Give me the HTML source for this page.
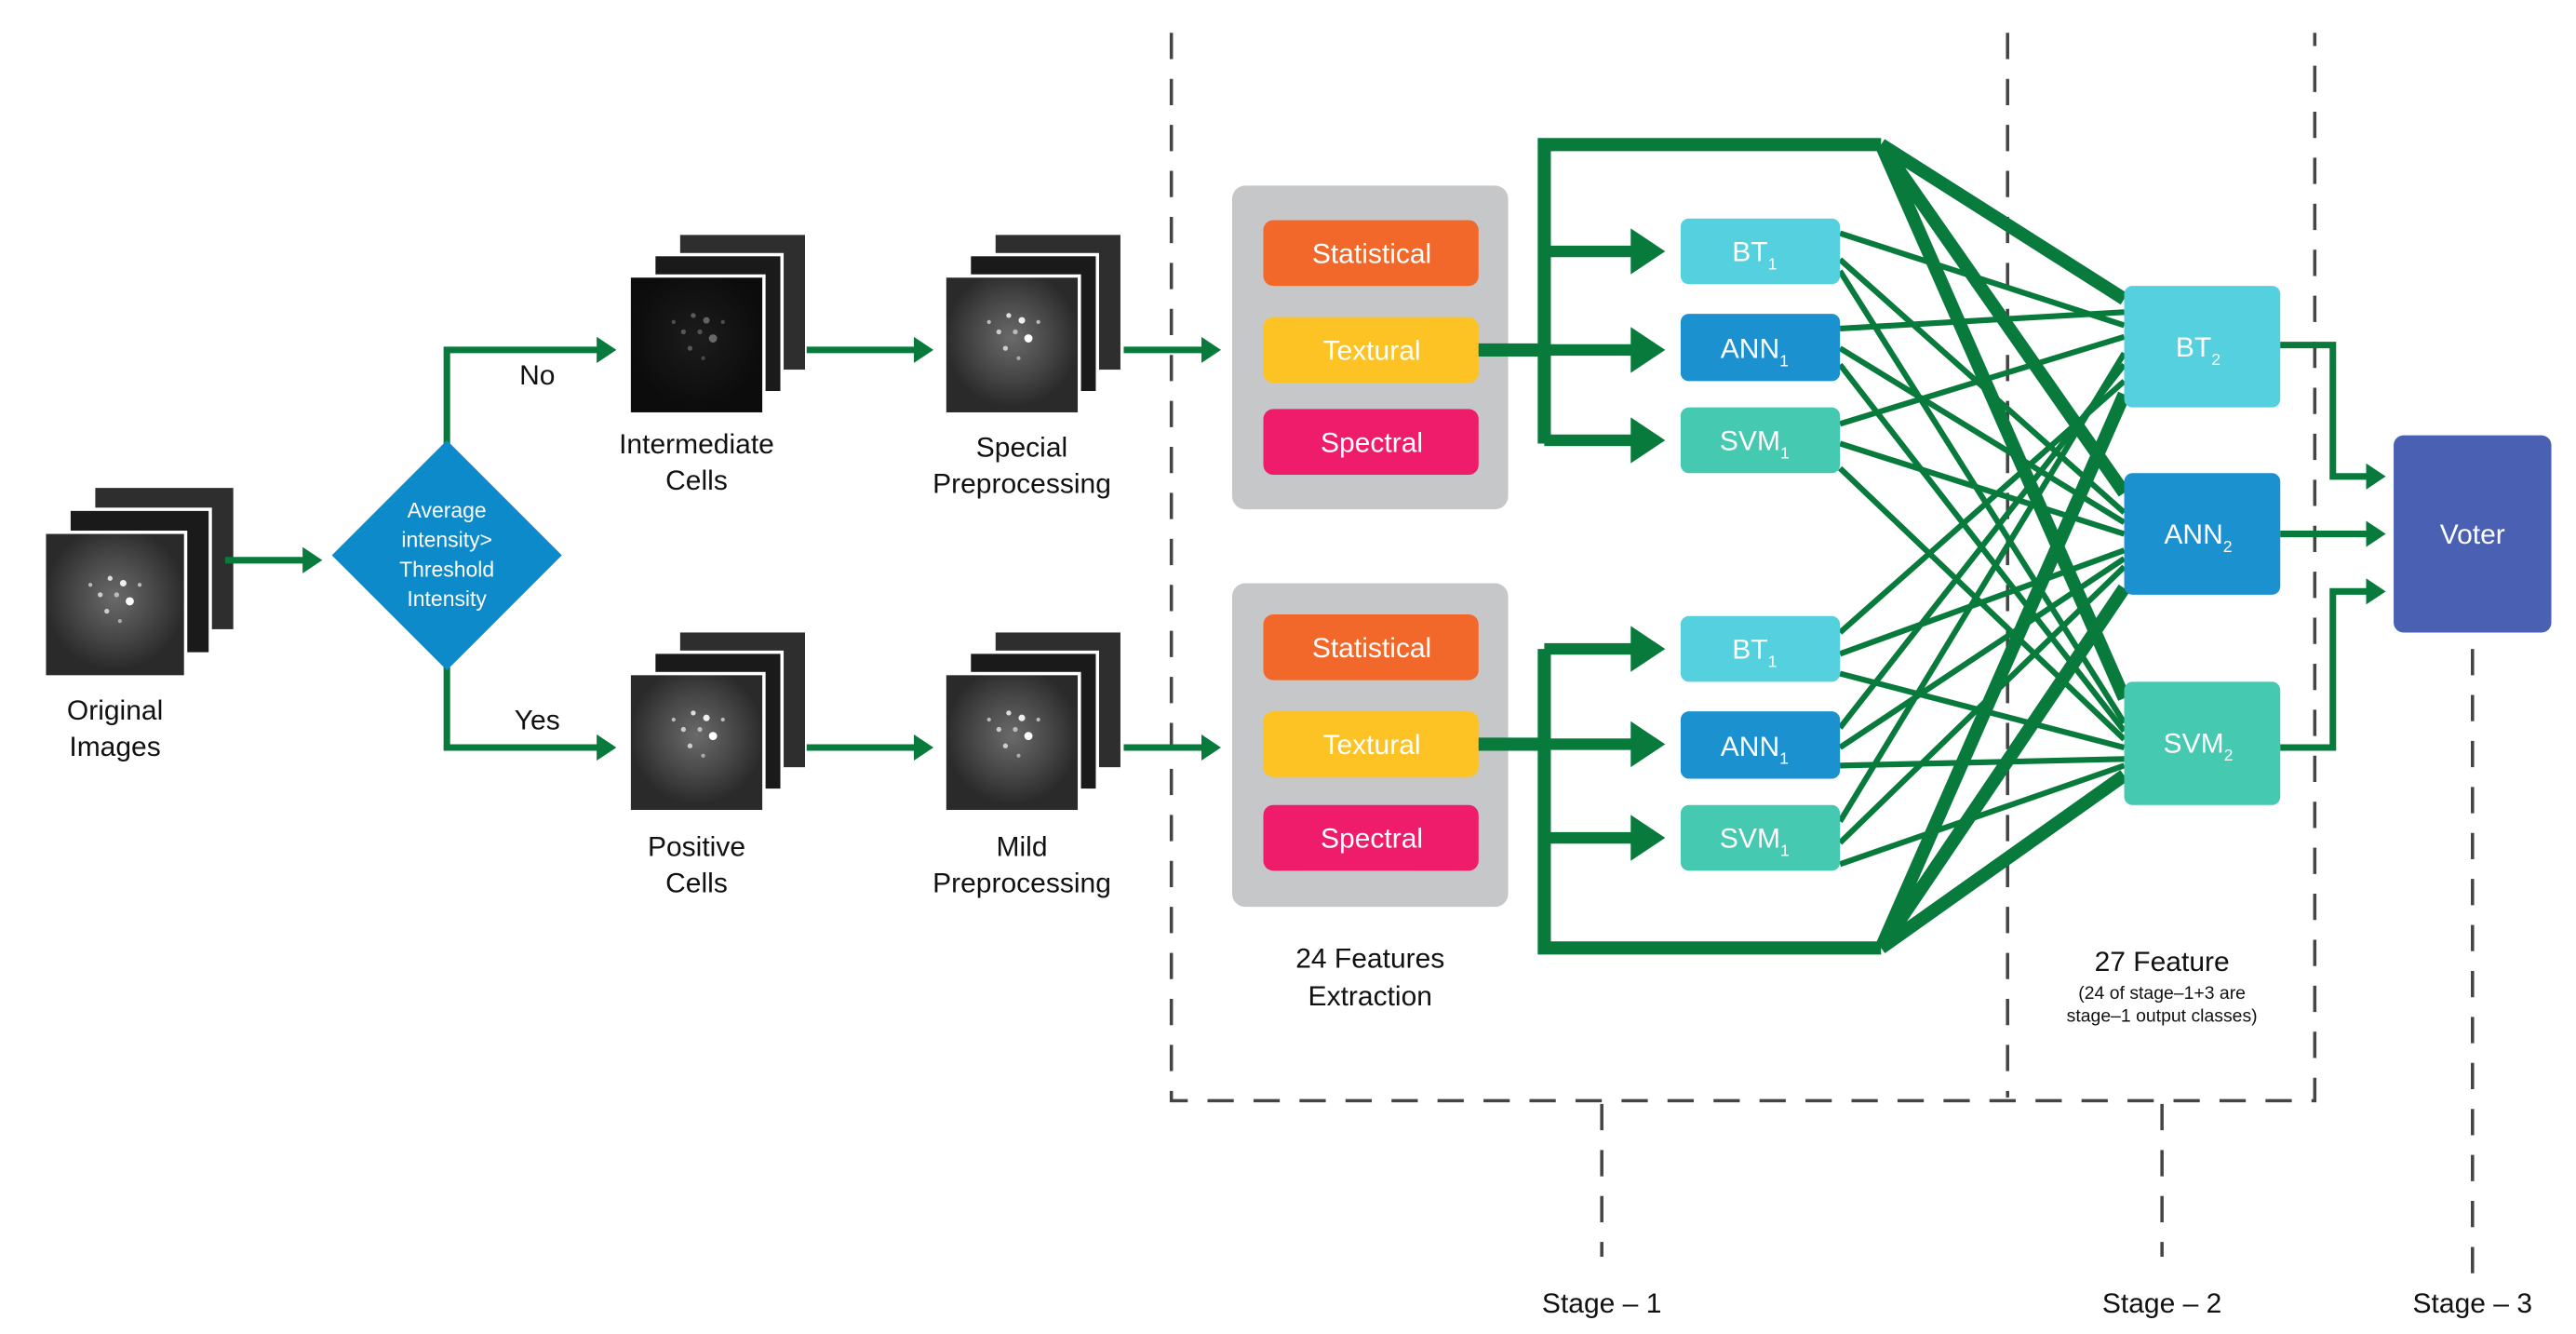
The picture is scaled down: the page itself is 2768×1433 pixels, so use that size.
<!DOCTYPE html>
<html><head><meta charset="utf-8"><style>
html,body{margin:0;padding:0;background:#fff;}
svg{display:block;}
text{font-family:"Liberation Sans",Arial,sans-serif;}
</style></head><body>
<svg width="2768" height="1433" viewBox="0 0 1568 812" preserveAspectRatio="none" xmlns="http://www.w3.org/2000/svg">
<defs>
<radialGradient id="cell" cx="0.5" cy="0.45" r="0.5">
<stop offset="0" stop-color="#6a6a6a"/><stop offset="0.6" stop-color="#454545"/><stop offset="1" stop-color="#2a2a2a"/>
</radialGradient>
<radialGradient id="cellDark" cx="0.5" cy="0.45" r="0.5">
<stop offset="0" stop-color="#1c1c1c"/><stop offset="1" stop-color="#0c0c0c"/>
</radialGradient>
<g id="dots">
<circle cx="0" cy="0" r="1.5" fill="#ddd"/><circle cx="8" cy="3" r="2" fill="#eee"/><circle cx="-6" cy="10" r="1.5" fill="#ccc"/>
<circle cx="12" cy="14" r="2.5" fill="#fff"/><circle cx="-2" cy="20" r="1.5" fill="#ccc"/><circle cx="4" cy="10" r="1.5" fill="#bbb"/>
<circle cx="-12" cy="4" r="1.2" fill="#bbb"/><circle cx="18" cy="4" r="1.2" fill="#bbb"/><circle cx="6" cy="26" r="1.2" fill="#aaa"/>
</g>
<g id="stack">
<rect x="30" y="-28" width="86" height="88" fill="#2e2e2e" stroke="#fff" stroke-width="2"/>
<rect x="15" y="-14" width="86" height="88" fill="#1a1a1a" stroke="#fff" stroke-width="2"/>
<rect x="0" y="0" width="86" height="88" fill="url(#cell)" stroke="#fff" stroke-width="2"/>
<use href="#dots" x="40" y="28"/>
</g>
<marker id="ah" markerWidth="4" markerHeight="4" refX="2.2" refY="2" orient="auto" markerUnits="strokeWidth"><path d="M0,0 L3,2 L0,4 z" fill="#087a3c"/></marker>
</defs>

<!-- dashed frame -->
<g stroke="#444" stroke-width="2" stroke-dasharray="16,12" fill="none">
<path d="M713,20 V670 H1409 V20"/>
<path d="M1222,20 V668"/>
<path d="M975,672 V765"/>
<path d="M1316,672 V765"/>
<path d="M1505,395 V780"/>
</g>

<!-- stacks -->
<use href="#stack" x="27" y="324"/>
<g>
<rect x="413" y="142" width="78" height="84" fill="#2e2e2e" stroke="#fff" stroke-width="2"/>
<rect x="398" y="155" width="78" height="84" fill="#1a1a1a" stroke="#fff" stroke-width="2"/>
<rect x="383" y="168" width="82" height="84" fill="url(#cellDark)" stroke="#fff" stroke-width="2"/>
<g opacity="0.35"><use href="#dots" x="422" y="192"/></g>
</g>
<g>
<rect x="605" y="142" width="78" height="84" fill="#2e2e2e" stroke="#fff" stroke-width="2"/>
<rect x="590" y="155" width="78" height="84" fill="#1a1a1a" stroke="#fff" stroke-width="2"/>
<rect x="575" y="168" width="82" height="84" fill="url(#cell)" stroke="#fff" stroke-width="2"/>
<use href="#dots" x="614" y="192"/>
</g>
<g>
<rect x="413" y="384" width="78" height="84" fill="#2e2e2e" stroke="#fff" stroke-width="2"/>
<rect x="398" y="397" width="78" height="84" fill="#1a1a1a" stroke="#fff" stroke-width="2"/>
<rect x="383" y="410" width="82" height="84" fill="url(#cell)" stroke="#fff" stroke-width="2"/>
<use href="#dots" x="422" y="434"/>
</g>
<g>
<rect x="605" y="384" width="78" height="84" fill="#2e2e2e" stroke="#fff" stroke-width="2"/>
<rect x="590" y="397" width="78" height="84" fill="#1a1a1a" stroke="#fff" stroke-width="2"/>
<rect x="575" y="410" width="82" height="84" fill="url(#cell)" stroke="#fff" stroke-width="2"/>
<use href="#dots" x="614" y="434"/>
</g>

<!-- left arrows -->
<g stroke="#087a3c" stroke-width="4" fill="none" marker-end="url(#ah)">
<path d="M137,341 H193"/>
<path d="M272,270 V213 H372"/>
<path d="M272,406 V455 H372"/>
<path d="M491,213 H565"/>
<path d="M684,213 H740"/>
<path d="M491,455 H565"/>
<path d="M684,455 H740"/>
</g>

<!-- diamond -->
<polygon points="272,268 342,338 272,408 202,338" fill="#0d8ac9"/>
<g fill="#fff" font-size="13" text-anchor="middle">
<text x="272" y="315">Average</text>
<text x="272" y="333">intensity&gt;</text>
<text x="272" y="351">Threshold</text>
<text x="272" y="369">Intensity</text>
</g>

<g fill="#111" font-size="17" text-anchor="middle">
<text x="327" y="234">No</text>
<text x="327" y="444">Yes</text>
<text x="70" y="438">Original</text><text x="70" y="460">Images</text>
<text x="424" y="276">Intermediate</text><text x="424" y="298">Cells</text>
<text x="622" y="278">Special</text><text x="622" y="300">Preprocessing</text>
<text x="424" y="521">Positive</text><text x="424" y="543">Cells</text>
<text x="622" y="521">Mild</text><text x="622" y="543">Preprocessing</text>
<text x="834" y="589">24 Features</text><text x="834" y="612">Extraction</text>
<text x="1316" y="591">27 Feature</text>
<text x="975" y="799">Stage – 1</text>
<text x="1316" y="799">Stage – 2</text>
<text x="1505" y="799">Stage – 3</text>
</g>
<g fill="#111" font-size="11" text-anchor="middle">
<text x="1316" y="608">(24 of stage–1+3 are</text>
<text x="1316" y="622">stage–1 output classes)</text>
</g>

<!-- feature boxes -->
<rect x="750" y="113" width="168" height="197" rx="8" fill="#c6c7c9"/>
<rect x="750" y="355" width="168" height="197" rx="8" fill="#c6c7c9"/>
<g font-size="17" fill="#fff" text-anchor="middle">
<rect x="769" y="134" width="131" height="40" rx="6" fill="#f2682a"/><text x="835" y="160">Statistical</text>
<rect x="769" y="193" width="131" height="40" rx="6" fill="#fdc325"/><text x="835" y="219">Textural</text>
<rect x="769" y="249" width="131" height="40" rx="6" fill="#ee1c6b"/><text x="835" y="275">Spectral</text>
<rect x="769" y="374" width="131" height="40" rx="6" fill="#f2682a"/><text x="835" y="400">Statistical</text>
<rect x="769" y="433" width="131" height="40" rx="6" fill="#fdc325"/><text x="835" y="459">Textural</text>
<rect x="769" y="490" width="131" height="40" rx="6" fill="#ee1c6b"/><text x="835" y="516">Spectral</text>
</g>

<!-- thick bus -->
<g stroke="#087a3c" stroke-width="8" fill="none">
<path d="M900,213 H940 M940,270 V88 H1145"/>
<path d="M900,453 H940 M940,395 V577 H1145"/>
<path d="M1145,88 L1293,182 M1145,88 L1293,300 M1145,88 L1293,425"/>
<path d="M1145,577 L1293,240 M1145,577 L1293,358 M1145,577 L1293,472"/>
</g>
<g stroke="#087a3c" stroke-width="7" fill="none" marker-end="url(#ah)">
<path d="M940,153 H1008"/><path d="M940,213 H1008"/><path d="M940,268 H1008"/>
<path d="M940,395 H1008"/><path d="M940,453 H1008"/><path d="M940,510 H1008"/>
</g>

<!-- thin cross lines -->
<g stroke="#087a3c" stroke-width="3.5" fill="none">
<path d="M1120,142 L1293,198 M1120,158 L1293,312 M1120,165 L1293,440"/>
<path d="M1120,200 L1293,190 M1120,212 L1293,318 M1120,222 L1293,445"/>
<path d="M1120,258 L1293,205 M1120,270 L1293,325 M1120,285 L1293,450"/>
<path d="M1120,385 L1293,232 M1120,398 L1293,335 M1120,410 L1293,455"/>
<path d="M1120,443 L1293,222 M1120,455 L1293,340 M1120,466 L1293,462"/>
<path d="M1120,500 L1293,215 M1120,513 L1293,345 M1120,526 L1293,466"/>
</g>

<!-- classifier boxes -->
<g font-size="17" fill="#fff" text-anchor="middle">
<rect x="1023" y="133" width="97" height="40" rx="5" fill="#54d0df"/><text x="1068" y="159">BT<tspan font-size="10" dy="5">1</tspan></text>
<rect x="1023" y="191" width="97" height="41" rx="5" fill="#1b91d0"/><text x="1068" y="218">ANN<tspan font-size="10" dy="5">1</tspan></text>
<rect x="1023" y="248" width="97" height="40" rx="5" fill="#45c9b1"/><text x="1068" y="274">SVM<tspan font-size="10" dy="5">1</tspan></text>
<rect x="1023" y="375" width="97" height="40" rx="5" fill="#54d0df"/><text x="1068" y="401">BT<tspan font-size="10" dy="5">1</tspan></text>
<rect x="1023" y="433" width="97" height="41" rx="5" fill="#1b91d0"/><text x="1068" y="460">ANN<tspan font-size="10" dy="5">1</tspan></text>
<rect x="1023" y="490" width="97" height="40" rx="5" fill="#45c9b1"/><text x="1068" y="516">SVM<tspan font-size="10" dy="5">1</tspan></text>
<rect x="1293" y="174" width="95" height="74" rx="5" fill="#54d0df"/><text x="1338" y="217">BT<tspan font-size="10" dy="5">2</tspan></text>
<rect x="1293" y="288" width="95" height="74" rx="5" fill="#1b91d0"/><text x="1338" y="331">ANN<tspan font-size="10" dy="5">2</tspan></text>
<rect x="1293" y="415" width="95" height="75" rx="5" fill="#45c9b1"/><text x="1338" y="458">SVM<tspan font-size="10" dy="5">2</tspan></text>
<rect x="1457" y="265" width="96" height="120" rx="6" fill="#4a60b2"/><text x="1505" y="331">Voter</text>
</g>

<g stroke="#087a3c" stroke-width="4" fill="none" marker-end="url(#ah)">
<path d="M1388,210 H1420 V290 H1449"/>
<path d="M1388,325 H1449"/>
<path d="M1388,455 H1420 V360 H1449"/>
</g>
</svg>
</body></html>
